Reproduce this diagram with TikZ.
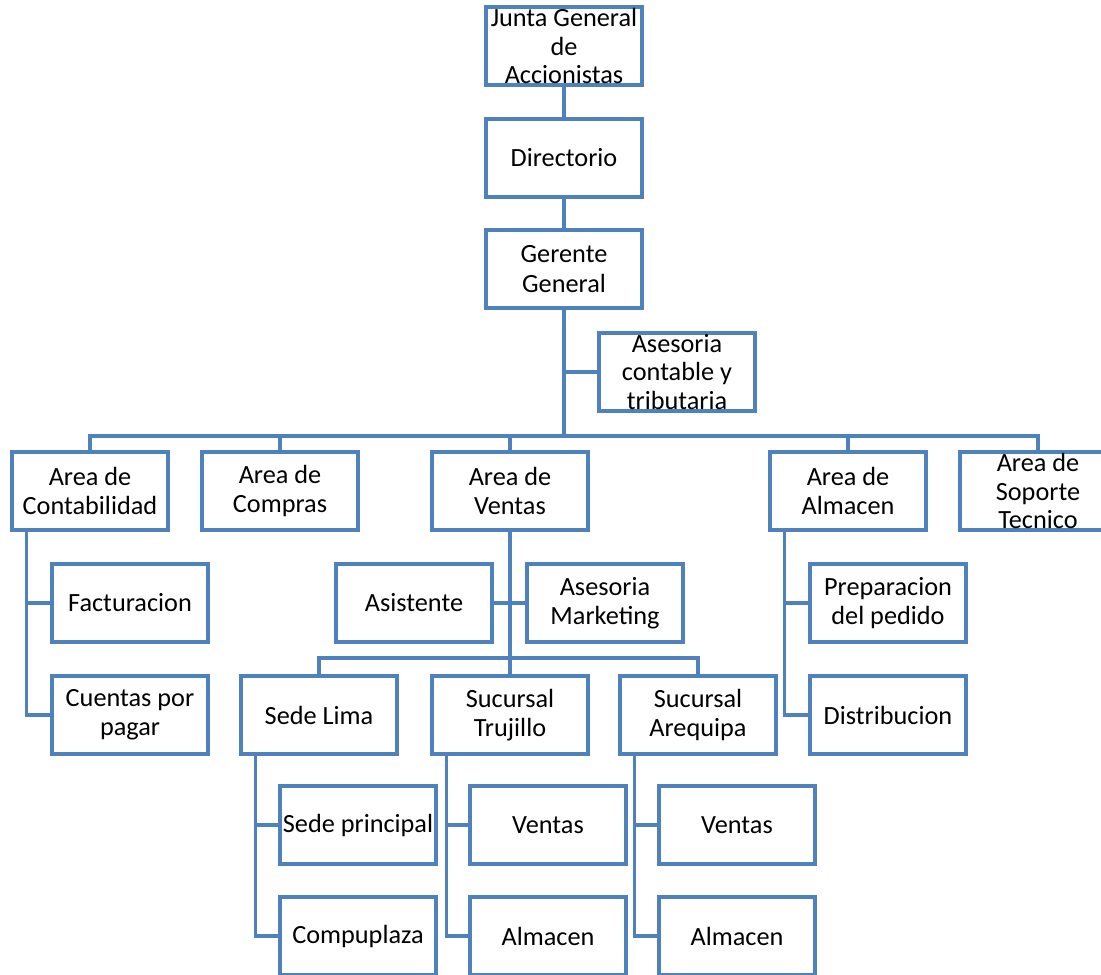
\documentclass[tikz,border=0pt]{standalone}
\usepackage{fontspec}
\setmainfont{Carlito}
\definecolor{orgblue}{RGB}{79,129,189}
\begin{document}
\begin{tikzpicture}[x=0.75pt, y=-0.75pt]
\tikzset{ unit/.style={draw=orgblue, line width=2.3pt, fill=white, minimum width=117pt,
            minimum height=58.5pt, inner sep=1pt, align=center,
            font=\fontsize{19.7}{22}\selectfont},
          link/.style={draw=orgblue, line width=2.3pt},
          tall/.style={label={[align=center, font=\fontsize{19.7}{21.5}\selectfont]center:#1}} }

\clip (0,0) rectangle (1101,975);

%\draw [lightgray, dashed](0,0) grid[step=50] (1100,975);

% top of the chart
\node [unit, tall={Junta General\\de\\Accionistas}] (junta) at (564,46) {};
\node [unit] (dir) at (564,158) {Directorio};
\node [unit] (ger) at (564,269) {Gerente\\General};
\node [unit, tall={Asesoria\\contable y\\tributaria}] (asc) at (677,372) {};

% areas
\node [unit] (cont) at (90,491)   {Area de\\Contabilidad};
\node [unit] (comp) at (280,491)  {Area de\\Compras};
\node [unit] (ven)  at (510,491)  {Area de\\Ventas};
\node [unit] (alm)  at (848,491)  {Area de\\Almacen};
\node [unit, tall={Area de\\Soporte\\Tecnico}] (sop) at (1038,491) {};

\node [unit] (fact) at (130,603) {Facturacion};
\node [unit] (cxp)  at (130,715) {Cuentas por\\pagar};

\node [unit] (asis) at (414,603) {Asistente};
\node [unit] (mkt)  at (605,603) {Asesoria\\Marketing};

\node [unit] (prep) at (888,603) {Preparacion\\del pedido};
\node [unit] (dist) at (888,715) {Distribucion};

% sedes
\node [unit] (lima) at (319,715) {Sede Lima};
\node [unit] (truj) at (510,715) {Sucursal\\Trujillo};
\node [unit] (areq) at (698,715) {Sucursal\\Arequipa};

\node [unit] (sedep) at (358,825) {Sede principal};
\node [unit] (compu) at (358,936) {Compuplaza};
\node [unit] (vent1) at (548,825) {Ventas};
\node [unit] (alm1)  at (548,936) {Almacen};
\node [unit] (vent2) at (737,825) {Ventas};
\node [unit] (alm2)  at (737,936) {Almacen};

\coordinate (bus)  at (564,436);
\coordinate (vbus) at (510,658);

\draw [link] (junta) -- (dir);
\draw [link] (dir) -- (ger);
\draw [link] (ger) -- (bus);
\draw [link] (asc.west) -- (asc.west -| ger.south);

\draw [link] (bus) -| (cont.north);
\draw [link] (bus) -| (comp.north);
\draw [link] (bus) -| (ven.north);
\draw [link] (bus) -| (alm.north);
\draw [link] (bus) -| (sop.north);

\draw [link] ([xshift=12pt]cont.south west) |- (fact.west);
\draw [link] ([xshift=12pt]cont.south west) |- (cxp.west);

\draw [link] (ven) -- (vbus);
\draw [link] (asis.east) -- (mkt.west);
\draw [link] (vbus) -| (lima.north);
\draw [link] (vbus) -| (truj.north);
\draw [link] (vbus) -| (areq.north);

\draw [link] ([xshift=12pt]alm.south west) |- (prep.west);
\draw [link] ([xshift=12pt]alm.south west) |- (dist.west);

\draw [link] ([xshift=12pt]lima.south west) |- (sedep.west);
\draw [link] ([xshift=12pt]lima.south west) |- (compu.west);
\draw [link] ([xshift=12pt]truj.south west) |- (vent1.west);
\draw [link] ([xshift=12pt]truj.south west) |- (alm1.west);
\draw [link] ([xshift=12pt]areq.south west) |- (vent2.west);
\draw [link] ([xshift=12pt]areq.south west) |- (alm2.west);

\end{tikzpicture}
\end{document}
